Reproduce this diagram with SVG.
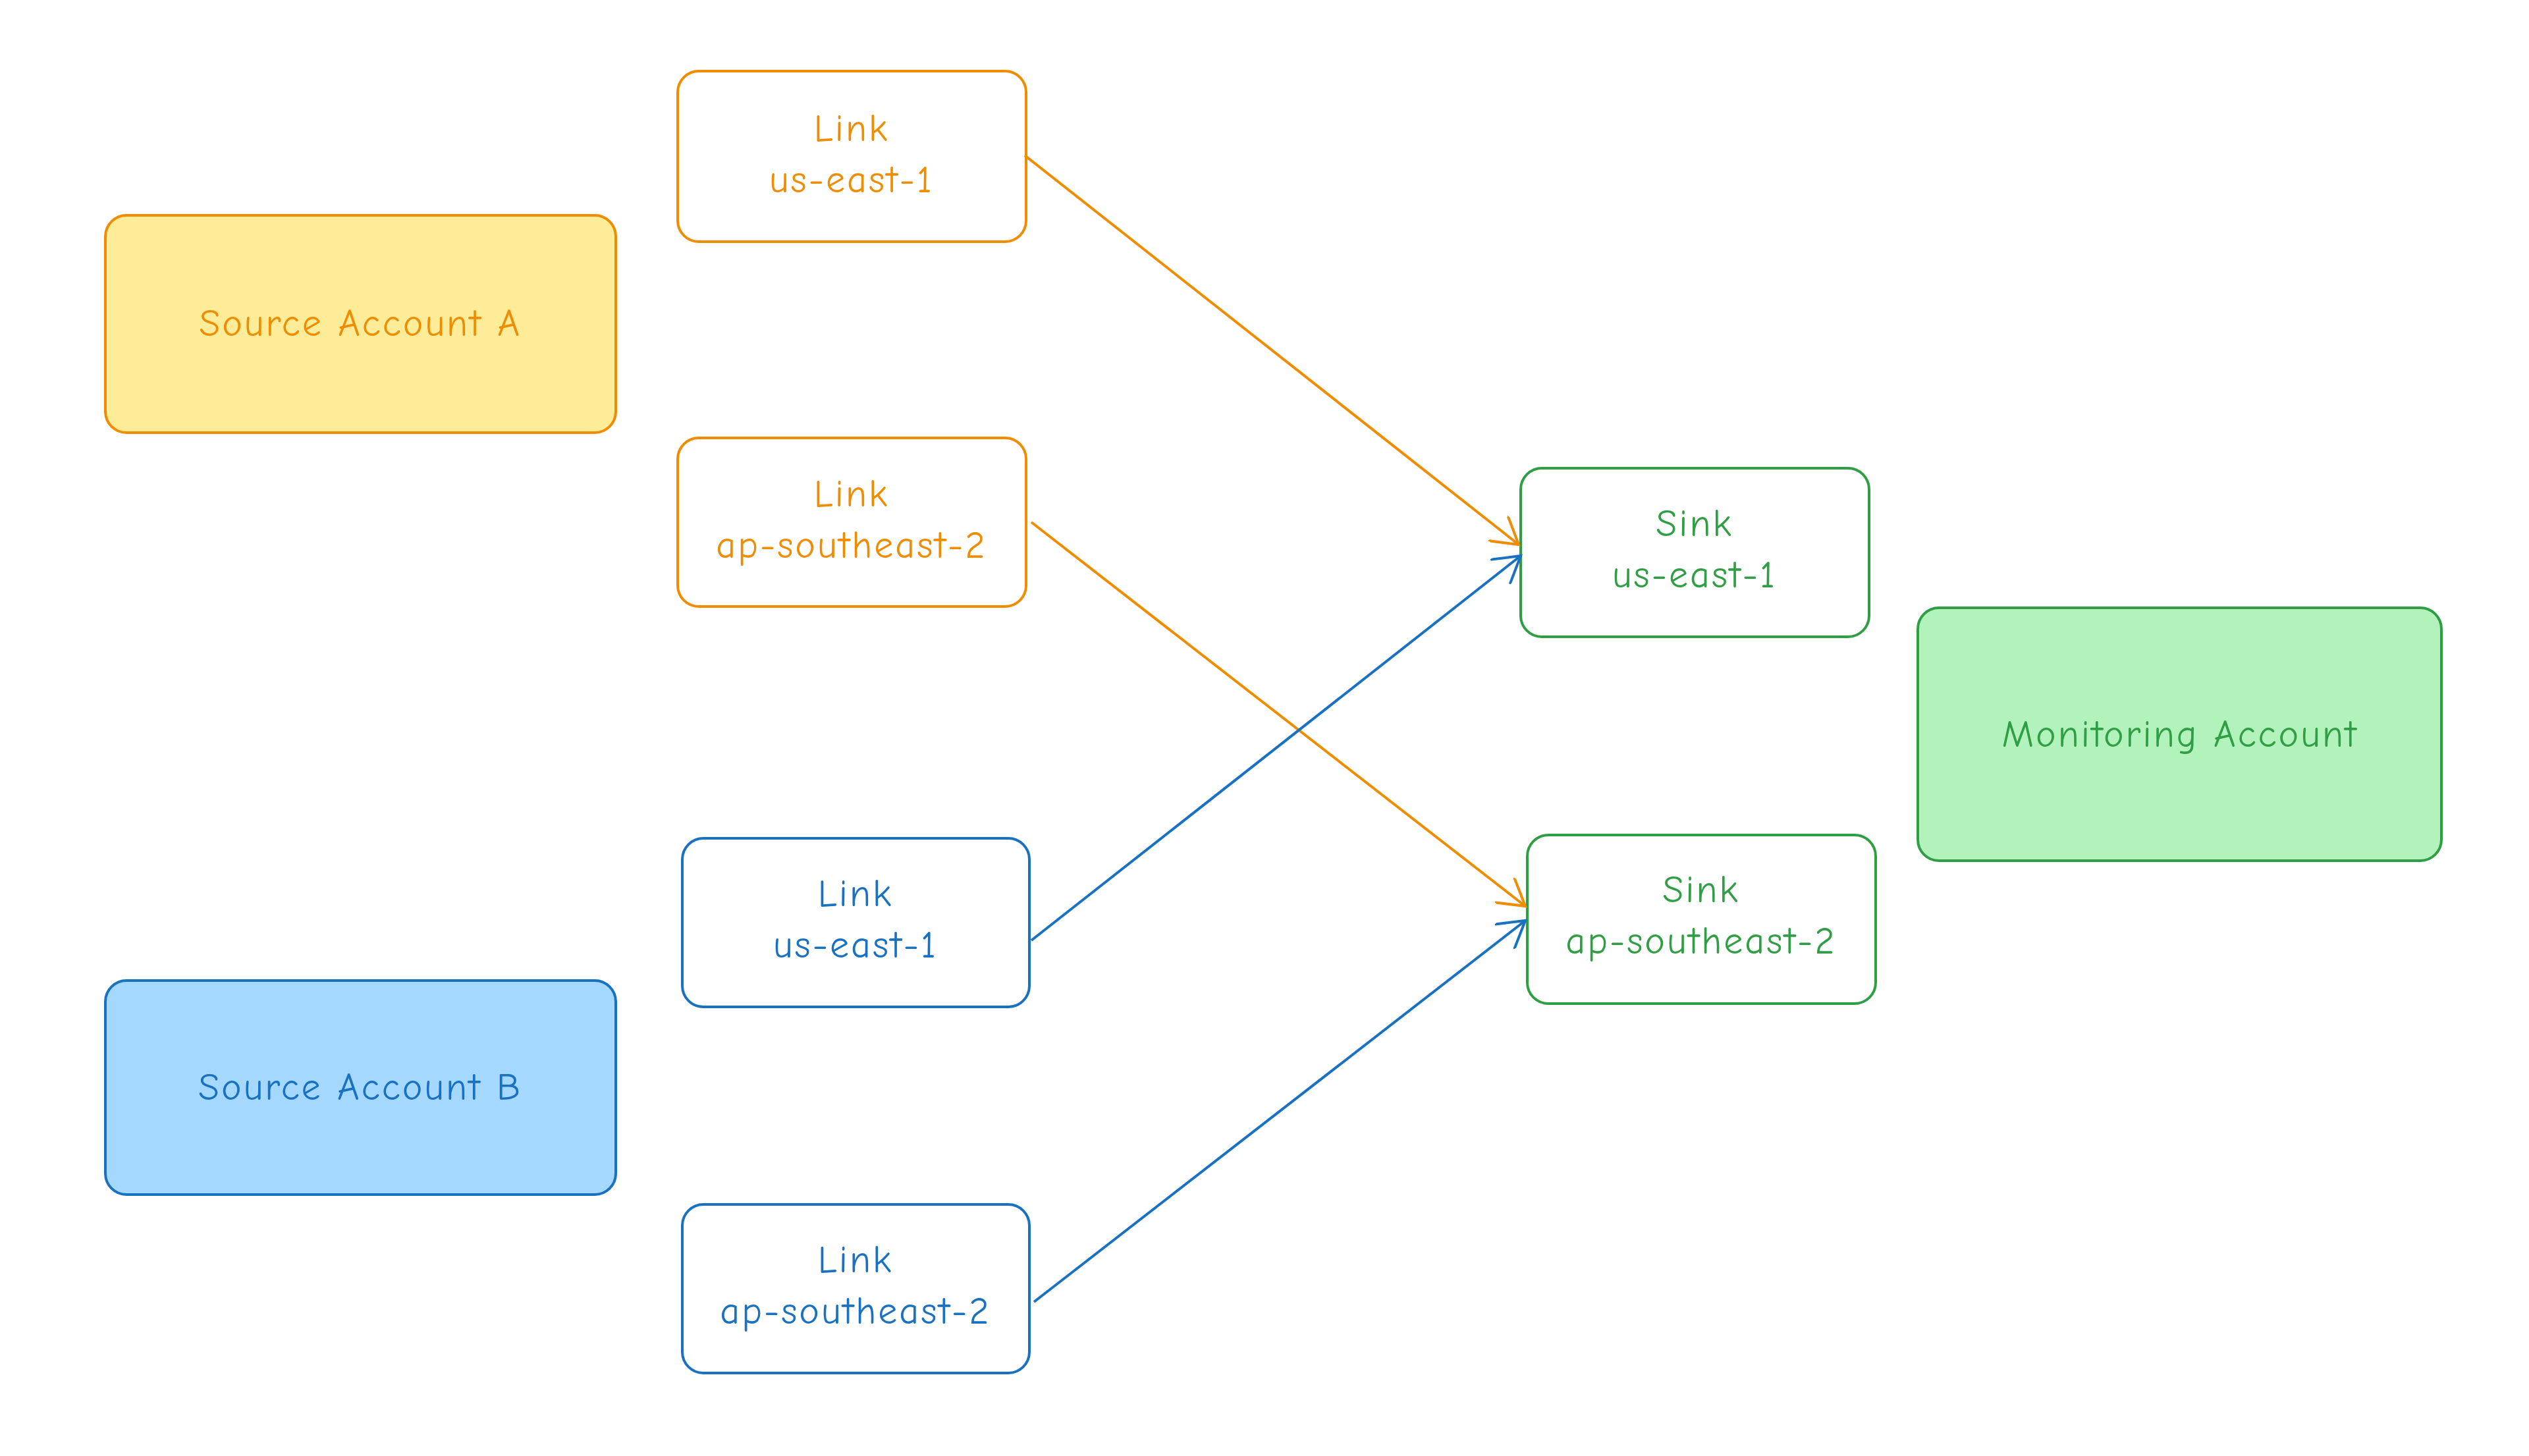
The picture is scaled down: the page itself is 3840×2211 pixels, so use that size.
<svg xmlns="http://www.w3.org/2000/svg" width="3840" height="2211" viewBox="0 0 3840 2211">
<style>
text{font-family:"Comic Neue","Liberation Sans",sans-serif;font-size:58px;letter-spacing:3px;text-anchor:middle}
.o{stroke:#f08c00;fill:#fff}.b{stroke:#1971c2;fill:#fff}.g{stroke:#2f9e44;fill:#fff}
rect{stroke-width:4}
.to{fill:#f08c00}.tb{fill:#1971c2}.tg{fill:#2f9e44}
.c path{fill:none;stroke-width:4}
</style>
<defs>
<marker id="ao" markerWidth="12" markerHeight="12" refX="10" refY="6" orient="auto" viewBox="0 0 12 12"><path d="M0,0L10,6L0,12" fill="none" stroke="#f08c00" stroke-width="1"/></marker>
<marker id="ab" markerWidth="12" markerHeight="12" refX="10" refY="6" orient="auto" viewBox="0 0 12 12"><path d="M0,0L10,6L0,12" fill="none" stroke="#1971c2" stroke-width="1"/></marker>
</defs>
<rect width="3840" height="2211" fill="#fff"/>
<g id="srcA"><rect x="160" y="327" width="775" height="330" rx="32" fill="#ffec99" stroke="#f08c00"/><text x="547" y="510" class="to">Source Account A</text></g>
<g id="srcB"><rect x="160" y="1489" width="775" height="325" rx="32" fill="#a5d8ff" stroke="#1971c2"/><text x="547" y="1670" class="tb">Source Account B</text></g>
<g id="linkA1"><rect class="o" x="1029" y="108" width="529" height="259" rx="32"/><text class="to" x="1293" y="214">Link</text><text class="to" x="1293" y="292">us-east-1</text></g>
<g id="linkA2"><rect class="o" x="1029" y="665" width="529" height="256" rx="32"/><text class="to" x="1293" y="769">Link</text><text class="to" x="1293" y="847">ap-southeast-2</text></g>
<g id="linkB1"><rect class="b" x="1036" y="1273" width="527" height="256" rx="32"/><text class="tb" x="1299" y="1376">Link</text><text class="tb" x="1299" y="1454">us-east-1</text></g>
<g id="linkB2"><rect class="b" x="1036" y="1829" width="527" height="256" rx="32"/><text class="tb" x="1299" y="1932">Link</text><text class="tb" x="1299" y="2010">ap-southeast-2</text></g>
<g id="sink1"><rect class="g" x="2309" y="711" width="529" height="256" rx="32"/><text class="tg" x="2573" y="814">Sink</text><text class="tg" x="2573" y="892">us-east-1</text></g>
<g id="sink2"><rect class="g" x="2319" y="1268" width="529" height="256" rx="32"/><text class="tg" x="2583" y="1370">Sink</text><text class="tg" x="2583" y="1448">ap-southeast-2</text></g>
<g id="mon"><rect x="2912" y="923" width="795" height="384" rx="32" fill="#b2f2bb" stroke="#2f9e44"/><text class="tg" x="3310" y="1134">Monitoring Account</text></g>
<g class="c">
<path d="M1556,236L2306,827" stroke="#f08c00" marker-end="url(#ao)"/>
<path d="M1566,793L2316,1376" stroke="#f08c00" marker-end="url(#ao)"/>
<path d="M1566,1428L2309,844" stroke="#1971c2" marker-end="url(#ab)"/>
<path d="M1570,1977L2316,1398" stroke="#1971c2" marker-end="url(#ab)"/>
</g>
</svg>
